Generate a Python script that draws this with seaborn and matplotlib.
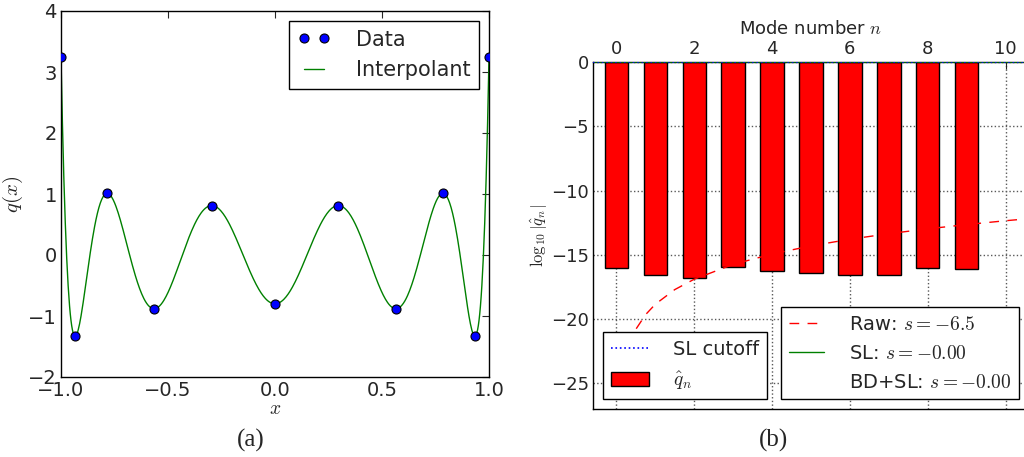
import numpy as np
import pandas as pd
import matplotlib
matplotlib.use("Agg")
import matplotlib.pyplot as plt
from matplotlib.lines import Line2D
import seaborn as sns

# ---------------- data ----------------
# (a) nodal data and its interpolant
x_nodes = [-1.0, -0.934, -0.7845, -0.5652, -0.2958, 0.0, 0.2958, 0.5652, 0.7845, 0.934, 1.0]
q_nodes = [3.24, -1.33, 1.01, -0.88, 0.81, -0.80, 0.81, -0.88, 1.01, -1.33, 3.24]

# (b) log10 of modal coefficients
modes = [0, 1, 2, 3, 4, 5, 6, 7, 8, 9]
log_qhat = [-16.05, -16.58, -16.81, -15.95, -16.24, -16.42, -16.60, -16.58, -16.03, -16.13]

# raw decay fit
raw_n = [0.2, 0.3, 0.5, 0.75, 1.0, 1.5, 2.0, 3.0, 4.0, 5.0, 6.0, 7.0, 8.0, 9.0, 10.0, 10.6]
raw_y = [-23.39, -22.25, -20.80, -19.66, -18.85, -17.71, -16.90, -15.75, -14.94,
         -14.31, -13.79, -13.36, -12.98, -12.65, -12.35, -12.19]
sl_level = 0.0
sl_cutoff = 0.0

xticks_a = [-1.0, -0.5, 0.0, 0.5, 1.0]
yticks_a = [-2, -1, 0, 1, 2, 3, 4]
xticks_b = [0, 2, 4, 6, 8, 10]
yticks_b = [-25, -20, -15, -10, -5, 0]

# ---------------- style ----------------
sns.set_style("white")
plt.rcParams.update({
    "font.family": ["DejaVu Sans"],
    "mathtext.fontset": "cm",
    "xtick.direction": "in",
    "ytick.direction": "in",
    "axes.edgecolor": "black",
    "axes.linewidth": 1.0,
    "legend.framealpha": 1.0,
})

fig = plt.figure(figsize=(10.24, 4.57), dpi=100)
ax1 = fig.add_axes([61 / 1024, 1 - 377 / 457, 428 / 1024, 366 / 457])
ax2 = fig.add_axes([593 / 1024, 1 - 409 / 457, 436 / 1024, 347 / 457])

# ---------------- panel (a) ----------------
poly = np.polynomial.Polynomial.fit(x_nodes, q_nodes, deg=len(x_nodes) - 1)
xs = np.linspace(-1, 1, 600)
interp_df = pd.DataFrame({"x": xs, "q": poly(xs)})
data_df = pd.DataFrame({"x": x_nodes, "q": q_nodes})

sns.lineplot(data=interp_df, x="x", y="q", ax=ax1, color="green", linewidth=1.0,
             zorder=2, sort=False)
sns.lineplot(data=data_df, x="x", y="q", ax=ax1, linestyle="none", marker="o",
             markersize=6.5, markerfacecolor="blue", markeredgecolor="black",
             markeredgewidth=0.8, color="blue", zorder=3, sort=False)

ax1.set_xlim(-1, 1)
ax1.set_ylim(-2, 4)
ax1.set_xticks(xticks_a)
ax1.set_xticklabels([f"{v:.1f}".replace("-", "\u2212") for v in xticks_a])
ax1.set_yticks(yticks_a)
ax1.set_yticklabels([str(v).replace("-", "\u2212") for v in yticks_a])
ax1.tick_params(labelsize=14, top=True, right=True, length=5, pad=3)
ax1.set_xlabel(r"$x$", fontsize=14, labelpad=-1)
ax1.set_ylabel(r"$q(x)$", fontsize=15, labelpad=2)

h_data = Line2D([], [], linestyle="none", marker="o", markersize=6.5,
                markerfacecolor="blue", markeredgecolor="black", markeredgewidth=0.8)
h_int = Line2D([], [], color="green", linewidth=1.0)
leg1 = ax1.legend([h_data, h_int], ["Data", "Interpolant"], loc="upper right",
                  fontsize=15, numpoints=2, handlelength=1.6, handletextpad=1.2,
                  fancybox=False, frameon=True, framealpha=1.0, borderaxespad=0.5)
leg1.get_frame().set_edgecolor("black")
leg1.get_frame().set_linewidth(1.0)

# ---------------- panel (b) ----------------
ax2.set_axisbelow(True)
ax2.grid(True, linestyle=":", color="0.35", linewidth=1.0)

sns.barplot(x=modes, y=log_qhat, native_scale=True, width=0.6, color="red",
            saturation=1, edgecolor="black", linewidth=1.0, ax=ax2, zorder=2)
sns.lineplot(x=raw_n, y=raw_y, ax=ax2, color="red", linewidth=1.0,
             linestyle=(0, (7, 6)), zorder=2.5)
ax2.axhline(sl_level, color="green", linewidth=1.2, zorder=4)
ax2.axhline(sl_cutoff, color="blue", linestyle=":", linewidth=1.2, zorder=4.5)

ax2.set_xlim(-0.6, 10.6)
ax2.set_ylim(-27, 0)
ax2.xaxis.tick_top()
ax2.xaxis.set_label_position("top")
ax2.set_xticks(xticks_b)
ax2.set_xticklabels([str(v) for v in xticks_b])
ax2.set_yticks(yticks_b)
ax2.set_yticklabels([str(v).replace("-", "\u2212") for v in yticks_b])
ax2.tick_params(labelsize=13, length=5, pad=3)
ax2.tick_params(axis="x", bottom=False, top=True)
ax2.set_xlabel(r"Mode number $n$", fontsize=13, labelpad=4)
ax2.set_ylabel(r"$\log_{10}|\hat{q}_n|$", fontsize=12, labelpad=1)

bars = ax2.containers[0]
h_cut = Line2D([], [], color="blue", linestyle=":", linewidth=1.2)
leg2 = ax2.legend([h_cut, bars], ["SL cutoff", r"$\hat{q}_n$"], loc="lower left",
                  fontsize=14, handlelength=2.0, handletextpad=1.2,
                  fancybox=False, frameon=True, framealpha=1.0, borderaxespad=0.5)
leg2.get_frame().set_edgecolor("black")
leg2.get_frame().set_linewidth(1.0)
leg2.set_zorder(10)
ax2.add_artist(leg2)

h_raw = Line2D([], [], color="red", linewidth=1.0, linestyle=(0, (7, 6)))
h_sl = Line2D([], [], color="green", linewidth=1.0)
h_bd = Line2D([], [], linestyle="none")
leg3 = ax2.legend([h_raw, h_sl, h_bd],
                  [r"Raw: $s = -6.5$", r"SL: $s = -0.00$", r"BD+SL: $s = -0.00$"],
                  loc="lower right", fontsize=14, handlelength=1.8, handletextpad=1.3,
                  fancybox=False, frameon=True, framealpha=1.0, borderaxespad=0.5)
leg3.get_frame().set_edgecolor("black")
leg3.get_frame().set_linewidth(1.0)
leg3.set_zorder(10)

# captions
fig.text(251 / 1024, 1 - 440 / 457, "(a)", ha="center", va="center",
         fontsize=18, family=["Liberation Serif", "DejaVu Serif"])
fig.text(774 / 1024, 1 - 440 / 457, "(b)", ha="center", va="center",
         fontsize=18, family=["Liberation Serif", "DejaVu Serif"])

fig.savefig("out.png", dpi=100)
